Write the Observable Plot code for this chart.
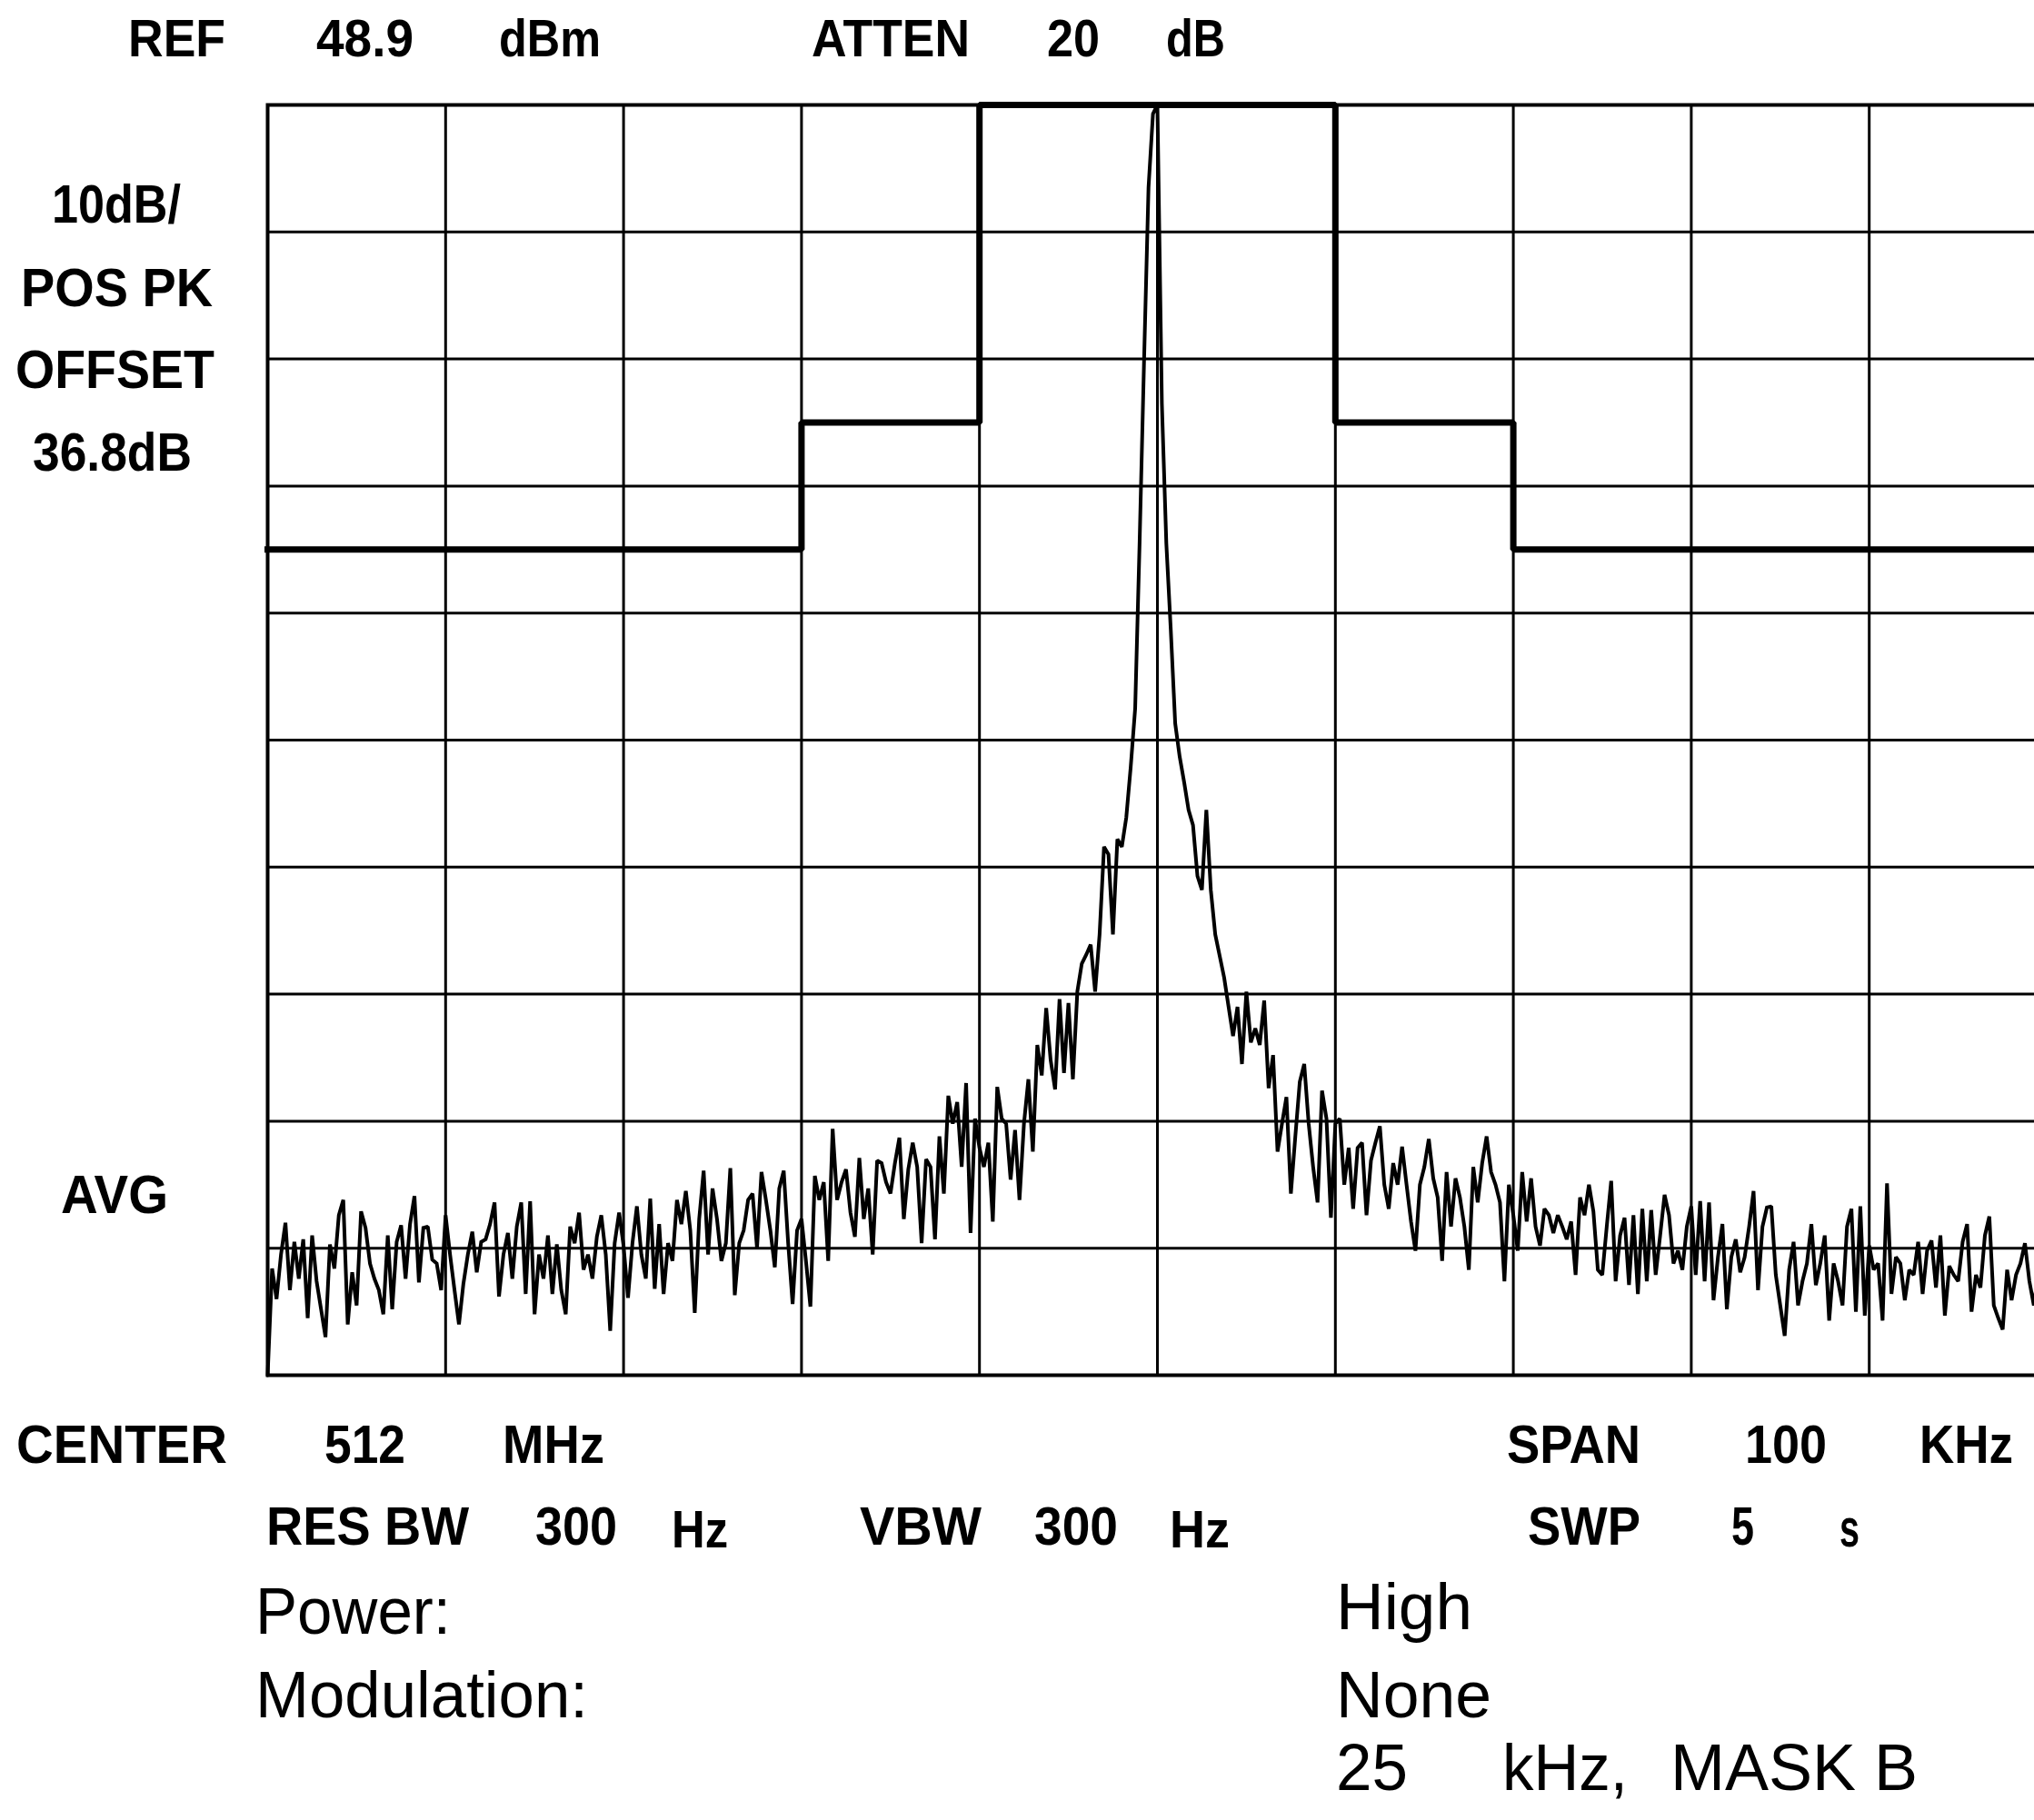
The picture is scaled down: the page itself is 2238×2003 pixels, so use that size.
<!DOCTYPE html>
<html>
<head>
<meta charset="utf-8">
<script src="https://cdn.jsdelivr.net/npm/d3@7"></script>
<script src="https://cdn.jsdelivr.net/npm/@observablehq/plot@0.6"></script>
<style>
  html, body { margin: 0; padding: 0; background: #fff; overflow: hidden; }
  #page { position: relative; width: 2238px; height: 2003px; overflow: hidden; background: #fff; }
  #chart { position: absolute; left: 0; top: 0; width: 2262px; }
  #readout { position: absolute; left: 0; top: 0; }
  #readout text { font-family: "Liberation Sans", Arial, sans-serif; fill: #000; }
</style>
</head>
<body>
<div id="page">
  <div id="chart"></div>
  <svg id="readout" width="2238" height="2003"></svg>
</div>
<script>
// Instrument settings shown around the graticule
const refLevel = "48.9", refUnit = "dBm";
const attenuation = "20", attenUnit = "dB";
const scaleText = ["10dB/", "POS PK", "OFFSET", "36.8dB"];
const detectorText = "AVG";
const centerFreq = "512", centerUnit = "MHz";
const spanValue = "100", spanUnit = "KHz";
const resBw = "300", vbw = "300", bwUnit = "Hz";
const sweepTime = "5", sweepUnit = "s";
const testRows = [["Power:", "High"], ["Modulation:", "None"]];
const channelText = ["25", "kHz,", "MASK B"];

// Graticule: 10 kHz/div around the centre, 10 dB/div below the reference level
const gridFreq = [-50, -40, -30, -20, -10, 0, 10, 20, 30, 40, 50];
const gridLevel = [0, -10, -20, -30, -40, -50, -60, -70, -80, -90, -100];

// Emission mask (dB relative to reference) versus offset from centre (kHz)
const maskFreq = [-50, -20, -10, 10, 20, 50];
const maskLevel = [-35, -25, 0, -25, -35, -35];

// Measured trace: 401 sweep bins, -50 kHz .. +50 kHz in 0.25 kHz steps, dB re reference
const traceStart = -50, traceStep = 0.25;
const traceDb = [
  -100, -91.6, -94, -90.5, -88, -93.3, -89.5, -92.4, -89.3, -95.5,
  -89, -92.6, -94.8, -97, -89.7, -91.6, -87.4, -86.2, -96, -91.9,
  -94.5, -87.1, -88.4, -91.2, -92.4, -93.3, -95.2, -89, -94.8, -89.5,
  -88.2, -92.4, -88.1, -85.9, -92.7, -88.4, -88.3, -90.9, -91.2, -93.3,
  -87.4, -90.5, -93.3, -96, -92.8, -90.5, -88.7, -91.9, -89.5, -89.3,
  -88.1, -86.4, -93.8, -90.5, -88.8, -92.4, -88.3, -86.4, -93.6, -86.3,
  -95.2, -90.5, -92.4, -89, -93.6, -89.7, -93.3, -95.2, -88.3,
  -89.6, -87.2, -91.7, -90.5, -92.4, -89.1, -87.4, -90.5, -96.5, -89.6,
  -87.2, -89.8, -93.9, -89.6, -86.7, -90.5, -92.4, -86.1, -93.2, -88.1,
  -93.6, -89.6, -91, -86.2, -88.1, -85.5, -88.6, -95.1, -87.7, -83.9,
  -90.5, -85.3, -87.7, -91, -89.6, -83.7, -93.7, -89.6, -88.6, -86.2,
  -85.7, -90, -84, -86.2, -88.6, -91.5, -85.3, -83.9, -89.6, -94.4,
  -88.6, -87.7, -91, -94.6, -84.3, -86.2, -84.8, -91, -80.6, -86.2,
  -84.8, -83.8, -87.2, -89.1, -82.9, -87.7, -85.3, -90.5, -83.1, -83.3,
  -84.8, -85.7, -83.3, -81.3, -87.7, -83.8, -81.7, -83.6, -89.6, -83,
  -83.6, -89.3, -81.2, -85.7, -78, -80.2, -78.5, -83.6, -77, -88.8,
  -79.8, -82.1, -83.6, -81.7, -87.9, -77.3, -79.8, -80.2, -84.6, -80.7,
  -86.2, -80.2, -76.7, -82.4, -74, -76.4, -71.1, -75.2, -77.5, -70.4,
  -76.2, -70.7, -76.7, -69.8, -67.6, -66.9,
  -66.1, -69.8, -65.3, -58.4, -59, -65.3, -57.8, -58.4, -56.1, -52.1,
  -47.5, -34.4, -20.1, -6.5, -0.7, 0, -23.5, -34.5, -41.3, -48.7,
  -51.3, -53.3, -55.5, -56.7, -60.7, -61.8, -55.5, -61.8, -65.3, -67,
  -68.7, -71, -73.3, -71, -75.5, -69.8, -73.8, -72.7,
  -74, -70.5, -77.4, -74.8, -82.4, -80.2, -78.1, -85.7, -81.2, -76.9,
  -75.5, -80.2, -83.6, -86.4, -77.6, -79.8, -87.6, -80.2, -79.8, -85,
  -82.1, -86.9, -82.1, -81.7, -87.4, -83.1, -81.7, -80.4, -85, -86.9,
  -83.3, -85, -82, -85, -87.9, -90.2, -85, -83.6, -81.4, -84.5,
  -86, -91, -84, -88.3, -84.5, -86, -88.3, -91.7, -83.6, -86.4,
  -83.3, -81.2, -84, -85, -86.4, -92.6, -85, -87.4, -90.2, -84,
  -87.9, -84.5, -88.3, -89.8, -86.9, -87.4, -88.8, -87.4, -88.3, -89.3,
  -87.9, -92.1, -86, -87.4, -85,
  -87.1, -91.7, -92.1, -88.3, -84.7, -92.6, -89, -87.6, -92.9, -87.4,
  -93.6, -86.9, -92.6, -87, -92.1, -89, -85.8, -87.4, -91.2, -90.2,
  -91.7, -88.3, -86.7, -92.1, -86.3, -92.6, -86.4, -94.1, -90.7, -88.1,
  -94.8, -90.7, -89.3, -91.9, -90.7, -88.3, -85.5, -93.3, -88.3, -86.8,
  -86.7, -92.1, -94.5, -96.9, -91.7, -89.5, -94.5, -92.6, -91.2, -88.1,
  -92.9, -91.2, -89, -95.7, -91.2, -92.6, -94.5, -88.3, -86.9, -95,
  -86.7, -95.3, -89.8, -91.7, -91.2, -95.7, -84.9, -93.6, -90.7, -91.2,
  -94.1, -91.7, -92.1, -89.5, -93.6, -90.2, -89.4, -93.1, -89, -95.3,
  -91.4, -92.1, -92.6, -89.5, -88.1, -95, -92.1, -93.1, -89, -87.5,
  -94.5, -95.5, -96.4, -91.7, -94.1, -92.1, -91.2, -89.6, -92.6, -94.5,
  -92, -94, -91
];

const traceRows = traceDb.map((db, i) => ({f: traceStart + i * traceStep, db}));
const maskRows = maskFreq.map((f, i) => ({f, db: maskLevel[i]}));

const plot = Plot.plot({
  width: 2262,
  height: 1523,
  marginLeft: 294,
  marginRight: 10,
  marginTop: 115,
  marginBottom: 10,
  x: {domain: [-50, 50], axis: null},
  y: {domain: [-100, 0], axis: null},
  style: {background: "#fff", maxWidth: "none", overflow: "visible"},
  marks: [
    Plot.gridX(gridFreq, {stroke: "#000", strokeOpacity: 1, strokeWidth: 3}),
    Plot.gridY(gridLevel, {stroke: "#000", strokeOpacity: 1, strokeWidth: 3}),
    Plot.frame({stroke: "#000", strokeWidth: 4}),
    Plot.line(maskRows, {x: "f", y: "db", curve: "step-after", stroke: "#000", strokeWidth: 7, strokeLinejoin: "miter", strokeLinecap: "square"}),
    Plot.line(traceRows, {x: "f", y: "db", stroke: "#000", strokeWidth: 4, strokeLinejoin: "miter", strokeMiterlimit: 1.5})
  ]
});
document.getElementById("chart").appendChild(plot);

// Readout text placed around the graticule
const svg = d3.select("#readout");
function put(text, x, y, size, width, opts = {}) {
  const t = svg.append("text")
    .attr("x", x).attr("y", y)
    .attr("font-size", size)
    .attr("font-weight", opts.regular ? 400 : 700)
    .attr("text-anchor", opts.anchor || "start")
    .text(text);
  if (width) t.attr("textLength", width).attr("lengthAdjust", "spacingAndGlyphs");
  return t;
}

// header row
put("REF", 141, 62, 58, 107);
put(refLevel, 348, 62, 58, 107);
put(refUnit, 549, 62, 58, 112);
put("ATTEN", 893, 62, 58, 174);
put(attenuation, 1152, 62, 58, 58);
put(attenUnit, 1283, 62, 58, 65);

// left-hand column
const leftRows = [[scaleText[0], 57, 245, 142], [scaleText[1], 23, 337, 211],
                  [scaleText[2], 17, 427, 219], [scaleText[3], 36, 518, 175]];
leftRows.forEach(([t, x, y, w]) => put(t, x, y, 60, w));
put(detectorText, 67, 1335, 60, 118);

// frequency row
put("CENTER", 18, 1610, 60, 232);
put(centerFreq, 357, 1610, 60, 89);
put(centerUnit, 553, 1610, 60, 112);
put("SPAN", 1658, 1610, 60, 147);
put(spanValue, 1920, 1610, 60, 90);
put(spanUnit, 2112, 1610, 60, 103);

// bandwidth / sweep row
put("RES BW", 293, 1700, 60, 223);
put(resBw, 589, 1700, 60, 90);
put(bwUnit, 739, 1703, 58, 62);
put("VBW", 946, 1700, 60, 134);
put(vbw, 1138, 1700, 60, 92);
put(bwUnit, 1287, 1703, 58, 66);
put("SWP", 1681, 1700, 60, 124);
put(sweepTime, 1905, 1700, 60, 25);
put(sweepUnit, 2024, 1702, 60, 22);

// test conditions
put(testRows[0][0], 281, 1798, 72, 215, {regular: true});
put(testRows[0][1], 1470, 1793, 72, 150, {regular: true});
put(testRows[1][0], 281, 1890, 72, 366, {regular: true});
put(testRows[1][1], 1470, 1890, 72, 171, {regular: true});
put(channelText[0], 1470, 1970, 72, 79, {regular: true});
put(channelText[1], 1653, 1970, 72, 138, {regular: true});
put(channelText[2], 1838, 1970, 72, 272, {regular: true});
</script>
</body>
</html>
